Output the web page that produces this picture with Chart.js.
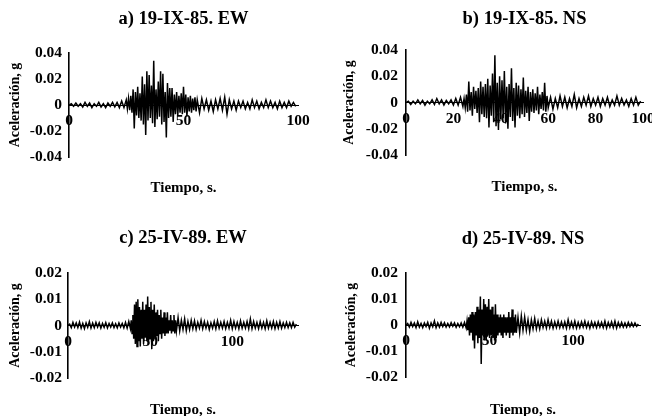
<!DOCTYPE html>
<html>
<head>
<meta charset="utf-8">
<script src="https://cdn.jsdelivr.net/npm/chart.js@4.4.1/dist/chart.umd.min.js"></script>
<style>
  html, body { margin: 0; padding: 0; background: #fff; overflow: hidden; }
  #wrap { position: relative; width: 652px; height: 416px; }
  canvas { position: absolute; }
</style>
</head>
<body>
<div id="wrap">
  <canvas id="pa" style="left:0;top:0;width:326px;height:208px"></canvas>
  <canvas id="pb" style="left:326px;top:0;width:326px;height:208px"></canvas>
  <canvas id="pc" style="left:0;top:208px;width:326px;height:214px"></canvas>
  <canvas id="pd" style="left:326px;top:208px;width:326px;height:214px"></canvas>
</div>
<script>
// a) 19-IX-85 EW
const tiempoA = [
  0,1,2,3,4,5,6,7,8,9,10,11,12,13,14,15,16,17,18,19,20,21,22,23,24,25,
  25.5,26,26.5,27,27.5,28,28.5,29,29.5,30,30.5,31,31.5,32,32.5,33,33.5,34,34.5,35,35.5,36,36.5,37,37.5,38,38.5,39,39.5,40,
  40.5,41,41.5,42,42.5,43,43.5,44,44.5,45,45.5,46,46.5,47,47.5,48,48.5,49,49.5,50,50.5,51,51.5,52,52.5,53,53.5,54,54.5,55,55.5,
  56,57,58,59,60,61,62,63,64,65,66,67,68,69,70,71,72,73,74,75,76,77,78,79,80,81,82,83,84,85,86,87,88,89,90,91,92,93,94,95,96,97,98,99
];
const acelA = [
  0,0.001,-0.001,0.0015,-0.001,0.001,-0.0015,0.002,-0.001,0.0015,-0.002,0.001,-0.001,0.002,-0.0015,0.001,-0.002,0.0015,-0.001,0.002,-0.0015,0.002,-0.002,0.003,-0.002,0.004,
  -0.003,0.005,-0.004,0.007,-0.006,0.012,-0.018,0.010,-0.008,0.014,-0.010,0.009,-0.012,0.022,-0.015,0.016,-0.023,0.026,-0.012,0.023,-0.010,0.015,-0.014,0.034,-0.017,0.012,-0.011,0.018,-0.009,0.026,
  -0.015,0.024,-0.013,0.010,-0.025,0.017,-0.010,0.013,-0.009,0.013,-0.013,0.008,-0.007,0.010,-0.008,0.007,-0.006,0.009,-0.007,0.014,-0.006,0.008,-0.009,0.006,-0.005,0.007,-0.006,0.005,-0.004,0.006,-0.005,
  0.004,-0.006,0.005,-0.003,0.004,-0.004,0.003,-0.005,0.004,-0.003,0.005,-0.004,0.006,-0.007,0.004,-0.003,0.003,-0.004,0.003,-0.002,0.003,-0.003,0.002,-0.003,0.004,-0.002,0.003,-0.003,0.002,-0.002,0.004,-0.002,0.003,-0.002,0.002,-0.003,0.003,-0.002,0.002,-0.002,0.003,-0.001,0.002,-0.001
];

// b) 19-IX-85 NS
const tiempoB = [
  0,1,2,3,4,5,6,7,8,9,10,11,12,13,14,15,16,17,18,19,20,21,22,23,24,
  24.5,25,25.5,26,26.5,27,27.5,28,28.5,29,29.5,30,30.5,31,31.5,32,32.5,33,33.5,34,34.5,35,35.5,36,36.5,37,37.5,38,38.5,39,39.5,40,40.5,41,41.5,42,
  42.5,43,43.5,44,44.5,45,45.5,46,46.5,47,47.5,48,48.5,49,49.5,50,50.5,51,51.5,52,52.5,53,53.5,54,54.5,55,55.5,56,56.5,57,57.5,58,58.5,59,59.5,60,
  61,62,63,64,65,66,67,68,69,70,71,72,73,74,75,76,77,78,79,80,81,82,83,84,85,86,87,88,89,90,91,92,93,94,95,96,97,98,99
];
const acelB = [
  0,0.001,-0.0015,0.001,-0.001,0.002,-0.001,0.0015,-0.002,0.001,-0.001,0.002,-0.0015,0.003,-0.001,0.002,-0.002,0.0015,-0.001,0.002,-0.002,0.003,-0.002,0.004,-0.003,
  0.003,-0.004,0.006,-0.007,0.016,-0.006,0.008,-0.010,0.012,-0.005,0.009,-0.008,0.011,-0.015,0.016,-0.009,0.012,-0.011,0.014,-0.012,0.018,-0.019,0.013,-0.010,0.022,-0.015,0.036,-0.018,0.015,-0.021,0.020,-0.013,0.017,-0.012,0.024,-0.016,
  0.012,-0.020,0.014,-0.011,0.026,-0.014,0.011,-0.019,0.015,-0.010,0.013,-0.012,0.010,-0.009,0.019,-0.011,0.009,-0.008,0.012,-0.014,0.008,-0.007,0.010,-0.008,0.007,-0.006,0.012,-0.009,0.006,-0.005,0.008,-0.006,0.015,-0.007,0.005,-0.004,
  0.004,-0.005,0.003,-0.004,0.005,-0.003,0.004,-0.004,0.003,-0.003,0.006,-0.004,0.003,-0.003,0.004,-0.002,0.005,-0.003,0.003,-0.002,0.004,-0.003,0.003,-0.002,0.004,-0.003,0.002,-0.002,0.005,-0.002,0.003,-0.002,0.002,-0.003,0.003,-0.002,0.004,-0.002,0.001
];

// c) 25-IV-89 EW
const tiempoC = [
  0,1,2,3,4,5,6,7,8,9,10,11,12,13,14,15,16,17,18,19,20,21,22,23,24,25,26,27,28,29,30,31,32,33,34,35,36,37,38,
  38.5,39,39.5,40,40.5,41,41.5,42,42.5,43,43.5,44,44.5,45,45.5,46,46.5,47,47.5,48,48.5,49,49.5,50,50.5,51,51.5,52,
  52.5,53,53.5,54,54.5,55,55.5,56,56.5,57,57.5,58,58.5,59,59.5,60,60.5,61,61.5,62,62.5,63,63.5,64,64.5,65,65.5,66,
  67,68,69,70,71,72,73,74,75,76,77,78,79,80,81,82,83,84,85,86,87,88,89,90,91,92,93,94,95,96,97,98,99,100,101,102,103,
  104,105,106,107,108,109,110,111,112,113,114,115,116,117,118,119,120,121,122,123,124,125,126,127,128,129,130,131,132,133,134,135,136,137,138,139
];
const acelC = [
  0,0.0005,-0.0008,0.0012,-0.0006,0.001,-0.0008,0.0013,-0.001,0.0008,-0.0012,0.001,-0.0007,0.0015,-0.001,0.0009,-0.0008,0.0012,-0.0006,0.001,-0.001,0.0008,-0.0007,0.0011,-0.0009,0.0008,-0.0006,0.001,-0.0008,0.0007,-0.0009,0.001,-0.0006,0.0008,-0.0009,0.0012,-0.001,0.0015,-0.0012,
  0.002,-0.003,0.004,-0.005,0.008,-0.007,0.009,-0.008,0.010,-0.006,0.007,-0.008,0.006,-0.005,0.009,-0.007,0.006,-0.004,0.008,-0.006,0.011,-0.007,0.007,-0.005,0.009,-0.009,0.006,-0.006,
  0.008,-0.005,0.005,-0.004,0.006,-0.006,0.004,-0.003,0.006,-0.005,0.003,-0.003,0.005,-0.004,0.003,-0.003,0.005,-0.003,0.002,-0.002,0.004,-0.003,0.002,-0.002,0.004,-0.003,0.002,-0.002,
  0.003,-0.002,0.002,-0.0015,0.0025,-0.002,0.0015,-0.0015,0.002,-0.0012,0.0018,-0.0015,0.0012,-0.001,0.002,-0.0012,0.0015,-0.001,0.0012,-0.0015,0.001,-0.001,0.0015,-0.0012,0.0018,-0.001,0.0012,-0.001,0.0015,-0.0012,0.0012,-0.001,0.002,-0.0012,0.0015,-0.001,0.0012,
  -0.0012,0.0018,-0.001,0.0012,-0.001,0.0015,-0.0012,0.0025,-0.0012,0.0015,-0.001,0.0012,-0.0012,0.0015,-0.001,0.0012,-0.0012,0.0018,-0.001,0.0012,-0.001,0.0015,-0.0012,0.0012,-0.001,0.0015,-0.001,0.001,-0.0008,0.0012,-0.0008,0.001,-0.0008,0.0012,-0.0006,0.0005
];

// d) 25-IV-89 NS
const tiempoD = [
  0,1,2,3,4,5,6,7,8,9,10,11,12,13,14,15,16,17,18,19,20,21,22,23,24,25,26,27,28,29,30,31,32,33,34,35,36,
  36.5,37,37.5,38,38.5,39,39.5,40,40.5,41,41.5,42,42.5,43,43.5,44,44.5,45,45.5,46,46.5,47,47.5,48,48.5,49,49.5,50,50.5,51,
  51.5,52,52.5,53,53.5,54,54.5,55,55.5,56,56.5,57,57.5,58,58.5,59,59.5,60,60.5,61,61.5,62,62.5,63,63.5,64,64.5,65,65.5,66,
  67,68,69,70,71,72,73,74,75,76,77,78,79,80,81,82,83,84,85,86,87,88,89,90,91,92,93,94,95,96,97,98,99,100,101,102,103,
  104,105,106,107,108,109,110,111,112,113,114,115,116,117,118,119,120,121,122,123,124,125,126,127,128,129,130,131,132,133,134,135,136,137,138,139
];
const acelD = [
  0,0.0006,-0.0008,0.001,-0.0006,0.0008,-0.001,0.0012,-0.0008,0.0006,-0.001,0.0008,-0.0006,0.001,-0.0012,0.0008,-0.0007,0.0016,-0.001,0.0008,-0.0008,0.001,-0.0006,0.0009,-0.0008,0.0006,-0.0007,0.0009,-0.0005,0.0008,-0.0009,0.0006,-0.0007,0.0008,-0.0008,0.001,-0.0012,
  0.0015,-0.002,0.003,-0.004,0.004,-0.003,0.005,-0.006,0.004,-0.009,0.005,-0.004,0.007,-0.007,0.006,-0.005,0.011,-0.015,0.006,-0.004,0.010,-0.006,0.008,-0.006,0.007,-0.004,0.010,-0.005,0.006,-0.004,
  0.007,-0.005,0.004,-0.006,0.008,-0.005,0.004,-0.004,0.003,-0.003,0.004,-0.004,0.003,-0.005,0.004,-0.003,0.003,-0.004,0.003,-0.003,0.005,-0.005,0.003,-0.003,0.006,-0.004,0.003,-0.003,0.004,-0.003,
  0.003,-0.003,0.0035,-0.002,0.003,-0.002,0.002,-0.0025,0.002,-0.0015,0.0025,-0.0015,0.0015,-0.0015,0.002,-0.001,0.0015,-0.0012,0.002,-0.001,0.0015,-0.0012,0.0012,-0.001,0.0015,-0.001,0.0012,-0.001,0.0012,-0.0012,0.002,-0.001,0.0012,-0.001,0.0015,-0.0012,0.001,
  -0.001,0.0012,-0.0008,0.0015,-0.001,0.001,-0.0012,0.0012,-0.0008,0.001,-0.001,0.0012,-0.0008,0.001,-0.001,0.0015,-0.0012,0.001,-0.0008,0.0012,-0.001,0.0015,-0.0012,0.001,-0.0008,0.001,-0.0008,0.0008,-0.0008,0.001,-0.0006,0.0008,-0.0006,0.0008,-0.0005,0.0004
];

const titulos = ['a) 19-IX-85. EW', 'b) 19-IX-85. NS', 'c) 25-IV-89. EW', 'd) 25-IV-89. NS'];
const yTicks40 = ['-0.04', '-0.02', '0', '0.02', '0.04'];
const yTicks20 = ['-0.02', '-0.01', '0', '0.01', '0.02'];

const serif = '"Liberation Serif", "DejaVu Serif", serif';

function panel(id, o) {
  const pts = o.t.map((t, i) => ({ x: t, y: o.a[i] }));
  new Chart(document.getElementById(id), {
    type: 'line',
    data: {
      datasets: [{
        data: pts,
        borderColor: '#000',
        borderWidth: 1.5,
        pointRadius: 0,
        tension: 0,
        fill: false
      }]
    },
    options: {
      responsive: false,
      animation: false,
      events: [],
      layout: { padding: { left: 0, right: o.right, top: 0, bottom: 0 } },
      plugins: {
        legend: { display: false },
        tooltip: { enabled: false },
        title: {
          display: true,
          text: o.title,
          fullSize: false,
          color: '#000',
          font: { family: serif, size: 18.5, weight: 'bold' },
          padding: { top: o.tTop, bottom: o.tBot }
        },
        subtitle: {
          display: true,
          position: 'bottom',
          text: 'Tiempo, s.',
          fullSize: false,
          color: '#000',
          font: { family: serif, size: 15, weight: 'bold' },
          padding: { top: o.sTop, bottom: o.sBot }
        }
      },
      scales: {
        x: {
          type: 'linear',
          position: { y: 0 },
          min: 0,
          max: o.xmax,
          grid: { display: false, drawTicks: false },
          border: { display: true, color: '#000', width: 1 },
          ticks: {
            stepSize: o.xstep,
            includeBounds: false,
            padding: 7,
            color: '#000',
            font: { family: serif, size: 15.5, weight: 'bold' },
            maxRotation: 0
          },
          afterFit: (s) => { s.paddingLeft = 0; s.paddingRight = 0; }
        },
        y: {
          position: 'left',
          min: -o.ymax,
          max: o.ymax,
          grid: { display: false, drawTicks: false },
          border: { display: true, color: '#000', width: 1.6 },
          ticks: {
            stepSize: o.ymax / 2,
            padding: o.yPad,
            color: '#000',
            font: { family: serif, size: 15.5, weight: 'bold' },
            callback: (v, i) => o.yLabels[i]
          },
          title: {
            display: true,
            text: 'Aceleración, g',
            color: '#000',
            font: { family: serif, size: 14, weight: 'bold' },
            padding: { top: o.yTitlePad, bottom: 0 }
          },
          afterFit: (s) => { s.width = o.left; }
        }
      }
    }
  });
}

panel('pa', { t: tiempoA, a: acelA, title: titulos[0], xmax: 100, xstep: 50, ymax: 0.04, yLabels: yTicks40,
  left: 69, right: 28, tTop: 7.9, tBot: 22.9, sTop: 22, sBot: 11, yPad: 7, yTitlePad: 7 });
panel('pb', { t: tiempoB, a: acelB, title: titulos[1], xmax: 100, xstep: 20, ymax: 0.04, yLabels: yTicks40,
  left: 80, right: 9, tTop: 7.9, tBot: 19.9, sTop: 23, sBot: 12, yPad: 8, yTitlePad: 14.6 });
panel('pc', { t: tiempoC, a: acelC, title: titulos[2], xmax: 140, xstep: 50, ymax: 0.02, yLabels: yTicks20,
  left: 68, right: 28, tTop: 18.9, tBot: 23.9, sTop: 23, sBot: 3, yPad: 6, yTitlePad: 7 });
panel('pd', { t: tiempoD, a: acelD, title: titulos[3], xmax: 140, xstep: 50, ymax: 0.02, yLabels: yTicks20,
  left: 80, right: 12, tTop: 19.9, tBot: 22.9, sTop: 24, sBot: 3, yPad: 8, yTitlePad: 16.6 });
</script>
</body>
</html>
